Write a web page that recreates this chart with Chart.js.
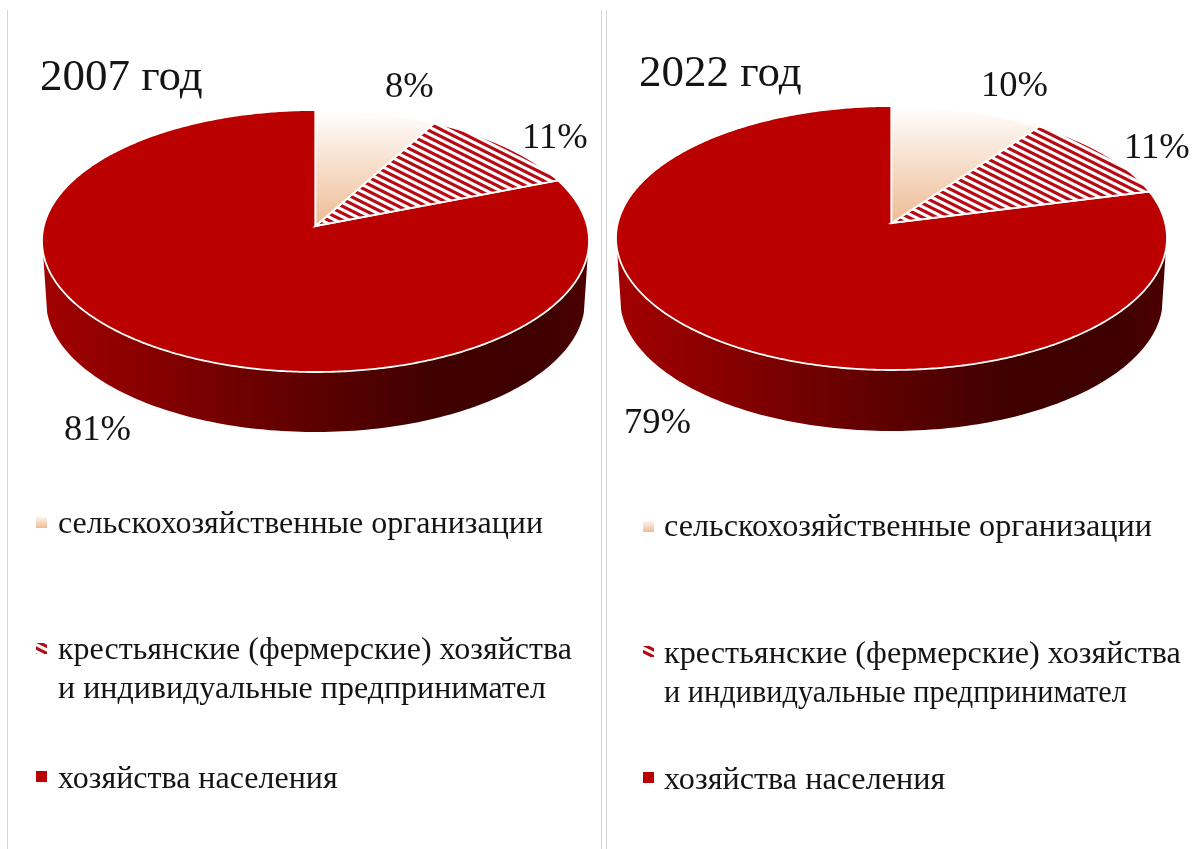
<!DOCTYPE html>
<html lang="ru">
  <head>
      <meta charset="utf-8" />
      <title>Структура производства, 2007 и 2022</title>
      <script src="https://cdn.jsdelivr.net/npm/chart.js@4/dist/chart.umd.min.js"></script>

      <style type='text/css'>

        html, body{
          margin: 0;
          background-color: #ffffff;
          overflow: hidden;
        }

        #page{
          position: relative;
          width: 1192px;
          height: 849px;
        }

        canvas{
          position: absolute;
          top: 0;
          filter: blur(0.5px);
        }

        #chart2007{ left: 0; }
        #chart2022{ left: 600px; }

        .rule{
          position: absolute;
          top: 10px;
          bottom: 0;
          width: 1px;
          background-color: #d4d4d4;
        }

      </style>

  </head>
  <body>

    <div id='page'>
      <div class='rule' style='left: 7px'></div>
      <div class='rule' style='left: 601px'></div>
      <div class='rule' style='left: 606px'></div>
      <canvas id="chart2007" width="600" height="849"></canvas>
      <canvas id="chart2022" width="592" height="849"></canvas>
    </div>

    <script>
      // data
      var categories = [
        ["сельскохозяйственные организации"],
        ["крестьянские (фермерские) хозяйства", "и индивидуальные предпринимател"],
        ["хозяйства населения"]
      ];
      var share2007 = [8, 11, 81];
      var share2022 = [10, 11, 79];
      var titleLeft = "2007 год";
      var titleRight = "2022 год";

      var RED = '#bb0000';
      var SERIF = '"Liberation Serif", "DejaVu Serif", serif';

      function peachGradient(y0, y1){
        var g = document.createElement('canvas').getContext('2d').createLinearGradient(0, y0, 0, y1);
        g.addColorStop(0, '#ffffff');
        g.addColorStop(1, '#eebb94');
        return g;
      }

      function hatchPattern(){
        var tile = document.createElement('canvas');
        tile.width = 14;
        tile.height = 7;
        var c = tile.getContext('2d');
        c.fillStyle = '#ffffff';
        c.fillRect(0, 0, 14, 7);
        c.strokeStyle = '#b80a14';
        c.lineWidth = 3.2;
        [-7, 0, 7].forEach(function(o){
          c.beginPath();
          c.moveTo(-2, o - 1);
          c.lineTo(16, o + 8);
          c.stroke();
        });
        return c.createPattern(tile, 'repeat');
      }

      // tilted pie: arcs come from the doughnut controller, this only projects them
      var pie3d = {
        id: 'pie3d',
        beforeDatasetsDraw: function(chart, args, o){
          var ctx = chart.ctx;
          var arcs = chart.getDatasetMeta(0).data;
          var cx = arcs[0].x, cy = arcs[0].y;

          function rim(t, scale, drop){
            var w = 1 - o.perspective * Math.sin(t);
            return {
              x: cx + o.rx * Math.cos(t) / w * (scale || 1),
              y: cy + o.ry * Math.sin(t) / w + (drop || 0)
            };
          }

          // side wall
          var wall = ctx.createLinearGradient(cx - 275, 0, cx + 275, 0);
          wall.addColorStop(0, '#a30000');
          wall.addColorStop(0.25, '#800000');
          wall.addColorStop(0.5, '#5c0000');
          wall.addColorStop(0.72, '#400000');
          wall.addColorStop(0.9, '#3e0000');
          wall.addColorStop(1, '#4c0000');
          ctx.save();
          ctx.beginPath();
          var t, p;
          for(t = 0.2; t <= Math.PI - 0.2; t += 0.02){
            p = rim(t);
            ctx.lineTo(p.x, p.y);
          }
          for(t = Math.PI - 0.2; t >= 0.2; t -= 0.02){
            p = rim(t, o.wallScale, o.depth);
            ctx.lineTo(p.x, p.y);
          }
          ctx.closePath();
          ctx.fillStyle = wall;
          ctx.fill();

          // top face, big slice first so the white edges of the small ones stay on top
          arcs.slice().reverse().forEach(function(arc){
            var a = arc.getProps(['startAngle', 'endAngle']);
            ctx.beginPath();
            ctx.moveTo(cx, cy);
            var n = Math.ceil((a.endAngle - a.startAngle) / 0.01);
            for(var i = 0; i <= n; i++){
              var q = rim(a.startAngle + (a.endAngle - a.startAngle) * i / n);
              ctx.lineTo(q.x, q.y);
            }
            ctx.closePath();
            ctx.fillStyle = arc.options.backgroundColor;
            ctx.fill();
            ctx.lineWidth = arc.options.borderWidth;
            ctx.strokeStyle = arc.options.borderColor;
            ctx.stroke();
          });
          ctx.restore();
          return false;
        },
        afterDraw: function(chart, args, o){
          var ctx = chart.ctx;
          var values = chart.data.datasets[0].data;
          var fills = chart.data.datasets[0].legendFill;
          ctx.save();
          ctx.fillStyle = '#141414';
          ctx.textAlign = 'left';
          ctx.textBaseline = 'alphabetic';

          ctx.font = o.titleSize + 'px ' + SERIF;
          ctx.fillText(o.title, o.titleAt[0], o.titleAt[1]);

          ctx.font = o.labelSize + 'px ' + SERIF;
          values.forEach(function(v, i){
            ctx.fillText(v + '%', o.labelAt[i][0], o.labelAt[i][1]);
          });

          ctx.font = o.legendSize + 'px ' + SERIF;
          chart.data.labels.forEach(function(lines, i){
            var pos = o.legendAt[i];
            ctx.fillStyle = fills[i];
            ctx.fillRect(o.markerX, pos.marker, 11, 11);
            ctx.fillStyle = '#141414';
            lines.forEach(function(line, j){
              // the second line of the right legend is squeezed in the original
              ctx.fillText(line, o.legendX, pos.lines[j], (pos.fit && pos.fit[j]) || 600);
            });
          });
          ctx.restore();
        }
      };

      function makePie(id, values, fills, padding, opts){
        return new Chart(document.getElementById(id).getContext('2d'), {
          type: 'pie',
          data: {
            labels: categories,
            datasets: [{
              data: values,
              backgroundColor: fills.slice(0, 3),
              legendFill: fills.slice(3),
              borderColor: '#ffffff',
              borderWidth: 1.8
            }]
          },
          options: {
            responsive: false,
            animation: false,
            layout: { padding: padding },
            plugins: { legend: { display: false }, tooltip: { enabled: false }, pie3d: opts }
          },
          plugins: [pie3d]
        });
      }

      makePie('chart2007', share2007,
        [peachGradient(110, 226), hatchPattern(), RED, peachGradient(515, 528), hatchPattern(), RED],
        { left: 89.5, right: 58.5, top: 0, bottom: 397 },
        {
          rx: 271.7, ry: 129.3, perspective: 0.1145, depth: 60, wallScale: 0.985,
          title: titleLeft, titleAt: [40, 90], titleSize: 45,
          labelSize: 36.5, labelAt: [[385, 97], [522, 148], [64, 440]],
          legendSize: 32, legendX: 58,
          markerX: 36,
          legendAt: [
            { marker: 517, lines: [533] },
            { marker: 643, lines: [659, 697.5] },
            { marker: 771, lines: [787.5] }
          ]
        });

      makePie('chart2022', share2022,
        [peachGradient(106, 223), hatchPattern(), RED, peachGradient(519, 532), hatchPattern(), RED],
        { left: 68.5, right: 77.5, top: 0, bottom: 403 },
        {
          rx: 273.7, ry: 130.3, perspective: 0.1136, depth: 61, wallScale: 0.985,
          title: titleRight, titleAt: [39, 86], titleSize: 45,
          labelSize: 36.5, labelAt: [[381, 96], [524, 158], [24, 433]],
          legendSize: 32.2, legendX: 64,
          markerX: 43,
          legendAt: [
            { marker: 521, lines: [535.5] },
            { marker: 646, lines: [662.5, 701.5], fit: [0, 463] },
            { marker: 772, lines: [789] }
          ]
        });
    </script>

  </body>
</html>
